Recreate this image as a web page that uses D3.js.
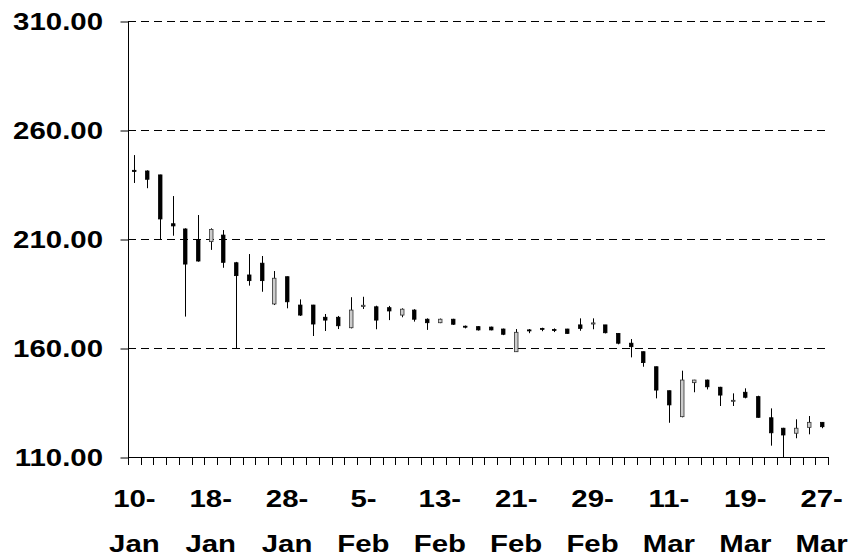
<!DOCTYPE html>
<html>
<head>
<meta charset="utf-8">
<script src="https://cdn.jsdelivr.net/npm/d3@7"></script>
<style>
  body { margin: 0; background: #fff; }
  svg { display: block; }
  text { font-family: "Liberation Sans", Arial, sans-serif; font-weight: bold; fill: #000; }
</style>
</head>
<body>
<div class="container"></div>
<script>
(function(){

    // trading days (category axis)
    var dates = ["10-Jan","11-Jan","12-Jan","13-Jan","14-Jan","17-Jan","18-Jan","19-Jan","20-Jan","21-Jan",
                 "24-Jan","25-Jan","28-Jan","31-Jan","1-Feb","2-Feb","3-Feb","4-Feb","5-Feb","7-Feb",
                 "8-Feb","9-Feb","10-Feb","11-Feb","13-Feb","14-Feb","15-Feb","16-Feb","17-Feb","18-Feb",
                 "21-Feb","22-Feb","23-Feb","24-Feb","25-Feb","28-Feb","29-Feb","1-Mar","2-Mar","3-Mar",
                 "7-Mar","8-Mar","11-Mar","12-Mar","13-Mar","14-Mar","15-Mar","16-Mar","19-Mar","20-Mar",
                 "21-Mar","22-Mar","23-Mar","26-Mar","27-Mar"];

    var open  = [241.5,241.2,239.4,217.0,214.6,209.5,208.8,211.8,199.1,193.5,
                 198.9,180.2,192.7,179.7,179.7,174.1,174.1,169.3,179.0,178.9,
                 178.5,175.1,177.4,173.2,171.6,173.2,170.0,169.8,169.6,168.7,
                 158.3,168.3,169.0,168.5,168.7,170.6,171.0,170.6,166.7,162.2,
                 158.3,151.4,140.4,128.5,144.1,145.3,142.0,135.6,139.7,137.7,
                 128.0,123.2,120.9,123.6,125.9];
    var high  = [248.5,241.5,239.5,229.7,214.9,221.0,214.9,214.1,199.5,203.1,
                 202.2,195.3,192.8,182.3,179.8,175.6,174.7,183.3,183.5,179.4,
                 179.3,178.2,177.8,173.6,173.5,173.4,170.3,170.0,169.8,168.9,
                 168.7,168.7,169.3,169.0,168.8,173.6,173.6,170.6,166.8,164.1,
                 158.4,151.5,140.5,149.6,145.4,145.5,142.2,139.2,141.5,138.1,
                 132.3,123.4,127.3,128.8,126.0];
    var low   = [235.7,233.3,210.0,211.5,174.4,199.6,205.0,196.8,160.0,188.6,
                 185.8,179.7,178.2,174.7,165.5,167.8,168.7,169.0,177.9,168.6,
                 172.8,174.1,172.1,168.3,171.4,170.6,169.0,168.0,168.1,165.9,
                 158.2,166.8,167.7,167.3,166.5,167.9,168.6,166.7,161.7,155.7,
                 151.4,136.9,125.7,128.2,139.7,141.0,133.4,133.4,136.9,128.0,
                 115.2,110.0,118.6,120.4,123.2];
    var close = [241.0,237.4,219.2,216.0,198.5,199.9,214.4,199.3,193.2,190.9,
                 190.9,192.0,181.2,175.1,171.0,172.8,170.2,177.4,179.6,172.8,
                 177.0,177.8,173.2,171.6,173.2,170.9,169.6,168.3,168.3,166.3,
                 167.2,168.0,168.6,168.2,166.7,169.0,171.5,167.0,162.2,160.6,
                 153.3,140.7,133.9,145.3,145.3,142.2,138.4,136.0,137.4,128.2,
                 121.1,120.1,123.2,125.9,123.9];

    var yTicks = [110, 160, 210, 260, 310];

    var data = dates.map(function(d, i) {
        return { date: d, o: open[i], h: high[i], l: low[i], c: close[i] };
    });

    var W = 853, H = 556;
    var left = 128, right = 828, top = 21, bottom = 457;
    var stretch = 1.2; // text in the picture is drawn wide
    var fs = "24.5px";

    var svg = d3.select(".container").append("svg")
        .attr("width", W)
        .attr("height", H);

    var x = d3.scaleBand()
        .domain(dates)
        .range([left, right])
        .padding(0);

    var y = d3.scaleLinear()
        .domain([110, 310])
        .range([bottom, top]);

    // gridlines
    svg.append("g").selectAll("line")
      .data(yTicks.slice(1))
      .enter().append("line")
      .attr("x1", left).attr("x2", right)
      .attr("y1", function(d) { return y(d) + 0.5; })
      .attr("y2", function(d) { return y(d) + 0.5; })
      .attr("stroke", "#000")
      .attr("stroke-dasharray", "8,5");

    // y axis
    var yAxis = svg.append("g")
        .attr("transform", "translate(" + (left + 0.5) + ",0.5)")
        .call(d3.axisLeft(y).tickValues(yTicks).tickSize(8).tickPadding(0).tickFormat(d3.format(".2f")));
    yAxis.select(".domain").attr("d", "M0," + (top - 0.5) + "V" + (bottom - 0.5));
    yAxis.selectAll("line").attr("stroke", "#000");
    yAxis.selectAll("text").remove();

    svg.append("g").selectAll("text")
      .data(yTicks)
      .enter().append("text")
      .attr("transform", function(d) { return "translate(103," + (y(d) + 9) + ") scale(" + stretch + ",1)"; })
      .attr("text-anchor", "end")
      .style("font-size", fs)
      .text(function(d) { return d3.format(".2f")(d); });

    // x axis: tick marks at category boundaries
    var bounds = dates.map(function(d) { return x(d); }).concat([right]);
    svg.append("line")
      .attr("x1", left).attr("x2", right)
      .attr("y1", bottom + 0.5).attr("y2", bottom + 0.5)
      .attr("stroke", "#000");
    svg.append("g").selectAll("line")
      .data(bounds)
      .enter().append("line")
      .attr("x1", function(d) { return Math.round(d) + 0.5; })
      .attr("x2", function(d) { return Math.round(d) + 0.5; })
      .attr("y1", bottom).attr("y2", bottom + 8)
      .attr("stroke", "#000");

    var labelled = dates.filter(function(d, i) { return i % 6 === 0; });
    var xl = svg.append("g").selectAll("g")
      .data(labelled)
      .enter().append("g")
      .attr("transform", function(d) { return "translate(" + (x(d) + x.bandwidth() / 2) + ",0)"; });
    xl.append("text")
      .attr("transform", "translate(0,507) scale(" + stretch + ",1)")
      .attr("text-anchor", "middle")
      .style("font-size", fs)
      .text(function(d) { return d.split("-")[0] + "-"; });
    xl.append("text")
      .attr("transform", "translate(0,552) scale(" + stretch + ",1)")
      .attr("text-anchor", "middle")
      .style("font-size", fs)
      .text(function(d) { return d.split("-")[1]; });

    // candles
    var cx = function(d) { return Math.round(x(d.date) + x.bandwidth() / 2) + 0.5; };
    var candles = svg.append("g").selectAll("g")
      .data(data)
      .enter().append("g");

    candles.append("line")
      .attr("x1", cx).attr("x2", cx)
      .attr("y1", function(d) { return y(d.h); })
      .attr("y2", function(d) { return y(d.l); })
      .attr("stroke", "#000");

    candles.append("rect")
      .attr("x", function(d) { return cx(d) - 2; })
      .attr("width", 3.5)
      .attr("y", function(d) { return y(Math.max(d.o, d.c)); })
      .attr("height", function(d) { return Math.max(1, Math.abs(y(d.o) - y(d.c))); })
      .attr("fill", function(d) { return d.c >= d.o ? "#ccc" : "#000"; })
      .attr("stroke", function(d) { return d.c >= d.o ? "#333" : "#000"; })
      .attr("stroke-width", 0.8);

})();
</script>
</body>
</html>
